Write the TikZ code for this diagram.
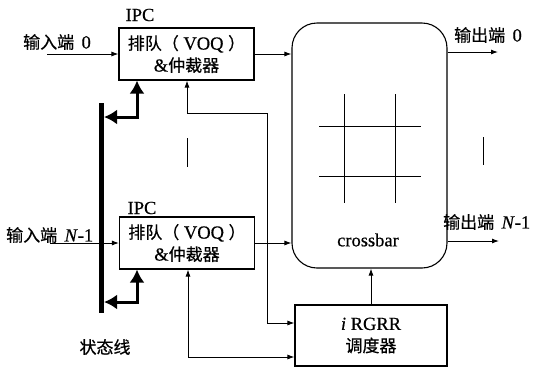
\documentclass[tikz,border=0pt]{standalone}
\usepackage{fontspec}
\setmainfont{Liberation Serif}[UprightFeatures={FakeBold=0.5},ItalicFeatures={FakeBold=0.5}]
\newfontfamily\cjkf{Noto Sans CJK SC}[FakeBold=0.6]
\usetikzlibrary{arrows.meta}
\newcommand\zh[1]{{\fontsize{17}{22}\cjkf #1}}
\begin{document}
\begin{tikzpicture}[x=1pt,y=-1pt,
  font=\fontsize{18.5}{22}\selectfont,
  box/.style={draw,line width=1.1pt,minimum width=135pt,minimum height=52pt,align=center,inner sep=0pt},
  lbl/.style={inner sep=0pt},
  tip/.style={line width=0.9pt,-{Latex[length=7pt,width=5pt]}},
  dtip/.style={line width=0.9pt,{Latex[length=7pt,width=5pt]}-{Latex[length=7pt,width=5pt]}},
  thickarr/.style={line width=3pt,{Latex[length=13pt,width=15pt]}-{Latex[length=13pt,width=15pt]}},
  gridline/.style={line width=1pt},
]
\useasboundingbox (0,0) rectangle (542,368);
% nodes
\node[box] (ipc0) at (186.5,54) {\zh{排队（} VOQ \zh{）}\\\&\zh{仲裁器}};
\node[box] (ipcN) at (187,243) {\zh{排队（} VOQ \zh{）}\\\&\zh{仲裁器}};
\node[draw,line width=1.1pt,rounded corners=25pt,minimum width=155pt,minimum height=245pt] (xbar) at (369.5,145.5) {};
\node[box,minimum width=152pt,minimum height=61pt] (sched) at (371,335.5) {\textit{i} RGRR\\\zh{调度器}};
% labels
\node[lbl] (ipcl0) at (140,15) {IPC};
\node[lbl] (ipclN) at (142,208) {IPC};
\node[lbl,anchor=west] (in0) at (23,42) {\zh{输入端}\hspace{0.4em}0};
\node[lbl,anchor=west] (inN) at (6,235) {\zh{输入端}\hspace{0.4em}\textit{N}-1};
\node[lbl,anchor=west] (out0) at (454,35) {\zh{输出端}\hspace{0.4em}0};
\node[lbl,anchor=west] (outN) at (443,222) {\zh{输出端}\hspace{0.4em}\textit{N}-1};
\node[lbl] (xlab) at (368,240) {crossbar};
\node[lbl] (stat) at (105,347) {\zh{状态线}};
% input / output arrows
\coordinate (a0) at (47,54);
\coordinate (aN) at (50,243);
\draw[tip] (a0) -- (ipc0.west |- a0);
\draw[tip] (aN) -- (ipcN.west |- aN);
\draw[tip] (ipc0.east) -- (ipc0.east -| xbar.west);
\draw[tip] (ipcN.east) -- (ipcN.east -| xbar.west);
\coordinate (o0) at (498,52);
\coordinate (oN) at (499,241);
\draw[tip] (xbar.east |- o0) -- (o0);
\draw[tip] (xbar.east |- oN) -- (oN);
\draw[tip] (sched.north) -- (sched.north |- xbar.south);
% status line
\coordinate (s1) at (101,103);
\coordinate (s2) at (101,313);
\draw[line width=5pt] (s1) -- (s2);
\coordinate (t0) at (104,117);
\coordinate (k0) at (137,117);
\draw[thickarr] (t0) -- (k0) -- (k0 |- ipc0.south);
\coordinate (tN) at (104,302);
\coordinate (kN) at (137,302);
\draw[thickarr] (tN) -- (kN) -- (kN |- ipcN.south);
% scheduler links
\coordinate (c1) at (187,113);
\coordinate (c2) at (267,113);
\coordinate (c3) at (267,323);
\draw[dtip] (c1 |- ipc0.south) -- (c1) -- (c2) -- (c3) -- (c3 -| sched.west);
\coordinate (d1) at (188,357);
\draw[dtip] (d1 |- ipcN.south) -- (d1) -- (d1 -| sched.west);
% crossbar grid
\draw[gridline] (344,94) -- (344,203);
\draw[gridline] (395,94) -- (395,203);
\draw[gridline] (319,126) -- (421,126);
\draw[gridline] (319,176) -- (421,176);
% ellipsis marks
\draw[line width=1pt] (187,138) -- (187,167);
\draw[line width=1pt] (483,137) -- (483,165);
\end{tikzpicture}
\end{document}
